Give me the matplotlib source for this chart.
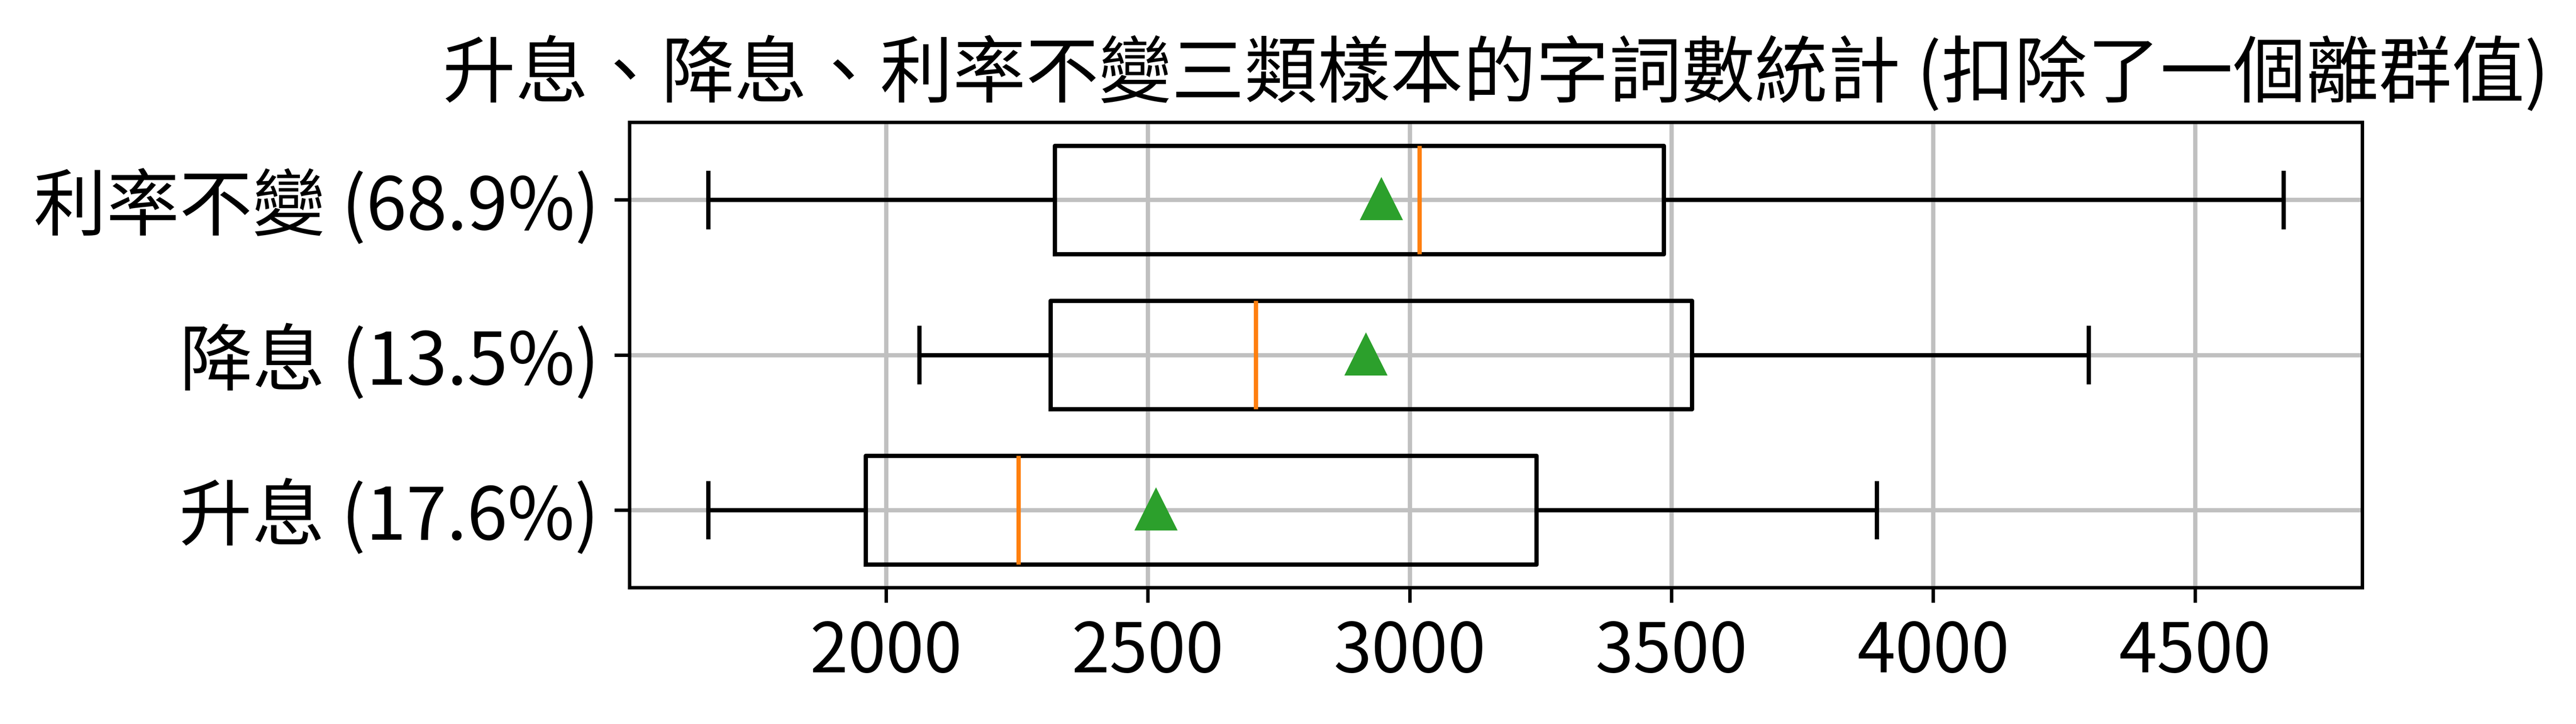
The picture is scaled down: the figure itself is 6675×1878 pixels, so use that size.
import matplotlib
matplotlib.use("Agg")
import matplotlib.pyplot as plt

plt.rcParams['font.family'] = ['Noto Sans CJK TC', 'DejaVu Sans']

# categories, bottom to top
labels = ["升息 (17.6%)", "降息 (13.5%)", "利率不變 (68.9%)"]

# box statistics
whislo = [1660, 2063, 1660]
q1 = [1961, 2314, 2322]
med = [2253, 2706, 3019]
mean = [2515, 2916, 2946]
q3 = [3242, 3539, 3485]
whishi = [3892, 4297, 4669]

stats = []
for i in range(len(labels)):
    stats.append({"label": labels[i], "whislo": whislo[i], "q1": q1[i], "med": med[i],
                  "mean": mean[i], "q3": q3[i], "whishi": whishi[i], "fliers": []})

dpi = 800

fig, ax = plt.subplots(figsize=(6675 / dpi, 1878 / dpi))
fig.subplots_adjust(left=0.2443, right=0.917, bottom=0.1885, top=0.831)

ax.bxp(stats, orientation='horizontal', showmeans=True, widths=0.7,
       meanprops=dict(marker='^', markerfacecolor='#2ca02c', markeredgecolor='#2ca02c', markersize=8.5))

ax.grid(True, color='#c0c0c0', linewidth=1)
ax.set_axisbelow(True)
ax.set_xticks([2000, 2500, 3000, 3500, 4000, 4500])
ax.tick_params(axis='x', labelsize=16)
ax.tick_params(axis='y', labelsize=17)

ax.set_title("升息、降息、利率不變三類樣本的字詞數統計 (扣除了一個離群值)", fontsize=17)

plt.savefig("out.png", dpi=dpi)
